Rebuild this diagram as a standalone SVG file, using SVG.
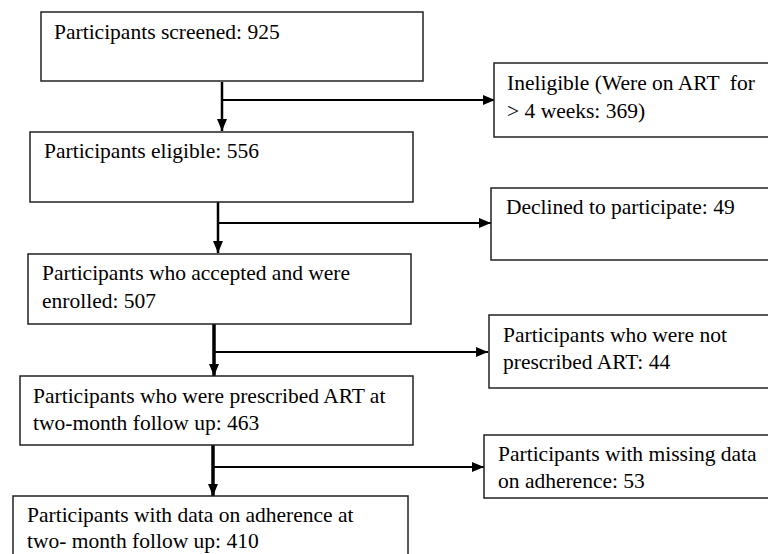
<svg xmlns="http://www.w3.org/2000/svg" width="768" height="554" viewBox="0 0 768 554">
<style>
.box{fill:#fff;stroke:#222;stroke-width:1.5}
.t{font-family:"Liberation Serif","Times New Roman",serif;font-size:21.5px;fill:#000}
.c{stroke:#000;fill:none}
</style>
<defs>
<marker id="ah" markerWidth="12" markerHeight="10" refX="12" refY="5" orient="auto" markerUnits="userSpaceOnUse">
<path d="M0,0 L12,5 L0,10 Z" fill="#000"/>
</marker>
</defs>
<rect width="768" height="554" fill="#fff"/>
<g id="connectors">
<path class="c" stroke-width="2.5" d="M222,82 V131" marker-end="url(#ah)"/>
<path class="c" stroke-width="2" d="M222,100 H495" marker-end="url(#ah)"/>
<path class="c" stroke-width="2.5" d="M218,202 V253" marker-end="url(#ah)"/>
<path class="c" stroke-width="2" d="M218,223 H491" marker-end="url(#ah)"/>
<path class="c" stroke-width="3.5" d="M214,324 V376" marker-end="url(#ah)"/>
<path class="c" stroke-width="2" d="M214,352 H488" marker-end="url(#ah)"/>
<path class="c" stroke-width="3.5" d="M213,445 V496" marker-end="url(#ah)"/>
<path class="c" stroke-width="2" d="M213,467 H484" marker-end="url(#ah)"/>
</g>
<g id="screened">
<rect class="box" x="41" y="12" width="382" height="69"/>
<text class="t" x="54" y="39">Participants screened: 925</text>
</g>
<g id="ineligible">
<rect class="box" x="494" y="63" width="280" height="74"/>
<text class="t" x="507" y="90" xml:space="preserve">Ineligible (Were on ART  for</text>
<text class="t" x="507" y="118">&gt; 4 weeks: 369)</text>
</g>
<g id="eligible">
<rect class="box" x="30" y="132" width="383" height="70"/>
<text class="t" x="44" y="158">Participants eligible: 556</text>
</g>
<g id="declined">
<rect class="box" x="491" y="188" width="283" height="72"/>
<text class="t" x="506" y="214">Declined to participate: 49</text>
</g>
<g id="enrolled">
<rect class="box" x="28" y="254" width="383" height="70"/>
<text class="t" x="42" y="280">Participants who accepted and were</text>
<text class="t" x="42" y="308">enrolled: 507</text>
</g>
<g id="notprescribed">
<rect class="box" x="489" y="315" width="285" height="73"/>
<text class="t" x="503" y="342">Participants who were not</text>
<text class="t" x="503" y="369">prescribed ART: 44</text>
</g>
<g id="prescribed">
<rect class="box" x="20" y="376" width="393" height="69"/>
<text class="t" x="33" y="403">Participants who were prescribed ART at</text>
<text class="t" x="33" y="430">two-month follow up: 463</text>
</g>
<g id="missing">
<rect class="box" x="484" y="435" width="290" height="63"/>
<text class="t" x="498" y="461">Participants with missing data</text>
<text class="t" x="498" y="488">on adherence: 53</text>
</g>
<g id="adherence">
<rect class="box" x="13" y="496" width="395" height="70"/>
<text class="t" x="27" y="522">Participants with data on adherence at</text>
<text class="t" x="27" y="548">two- month follow up: 410</text>
</g>
</svg>
